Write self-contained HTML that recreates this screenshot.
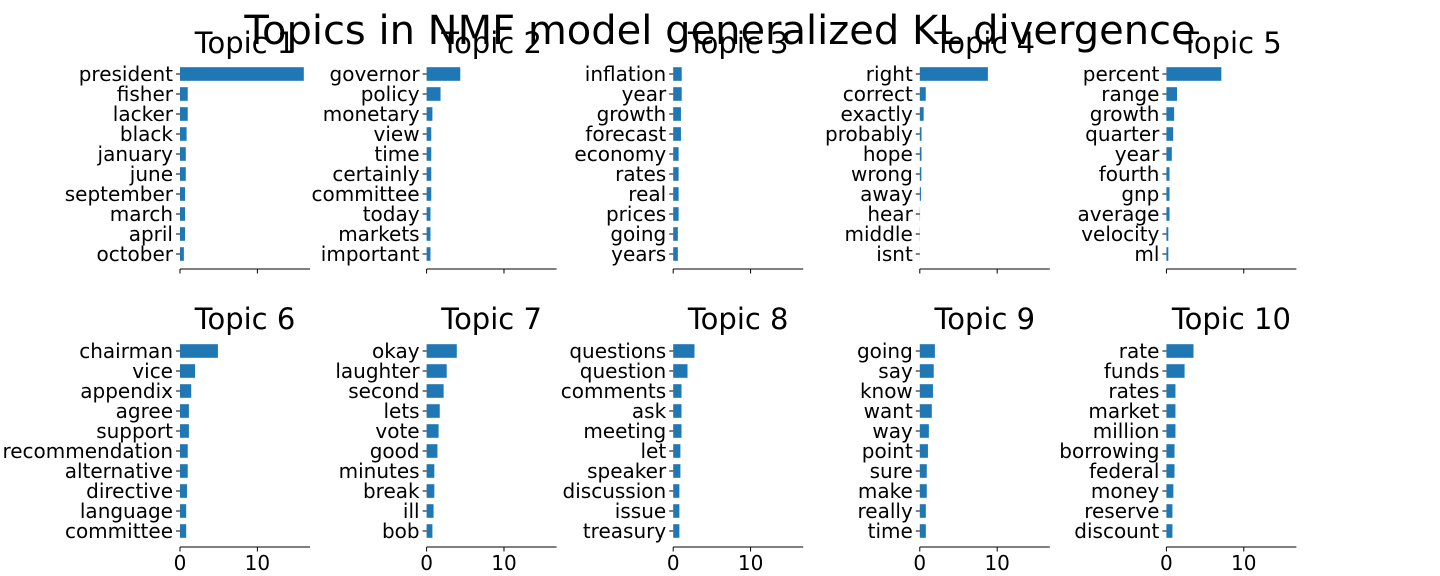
<!DOCTYPE html>
<html><head><meta charset="utf-8">
<style>
html,body{margin:0;padding:0;background:#fff;}
svg{display:block;font-family:"DejaVu Sans","Liberation Sans",sans-serif;}
</style></head>
<body>
<svg id="chart" width="1440" height="576" viewBox="0 0 1440 576" xmlns="http://www.w3.org/2000/svg">
<text x="720" y="44" font-size="40" text-anchor="middle" fill="#000">Topics in NMF model generalized KL divergence</text>
</svg>
<script>
const topicTitles = ["Topic 1","Topic 2","Topic 3","Topic 4","Topic 5","Topic 6","Topic 7","Topic 8","Topic 9","Topic 10"];
const topicWords = [
 ["president","fisher","lacker","black","january","june","september","march","april","october"],
 ["governor","policy","monetary","view","time","certainly","committee","today","markets","important"],
 ["inflation","year","growth","forecast","economy","rates","real","prices","going","years"],
 ["right","correct","exactly","probably","hope","wrong","away","hear","middle","isnt"],
 ["percent","range","growth","quarter","year","fourth","gnp","average","velocity","ml"],
 ["chairman","vice","appendix","agree","support","recommendation","alternative","directive","language","committee"],
 ["okay","laughter","second","lets","vote","good","minutes","break","ill","bob"],
 ["questions","question","comments","ask","meeting","let","speaker","discussion","issue","treasury"],
 ["going","say","know","want","way","point","sure","make","really","time"],
 ["rate","funds","rates","market","million","borrowing","federal","money","reserve","discount"]
];
const topicWeights = [
 [16.0,1.0,1.0,0.85,0.75,0.75,0.65,0.65,0.65,0.5],
 [4.35,1.8,0.75,0.6,0.6,0.6,0.6,0.5,0.5,0.5],
 [1.1,1.1,1.0,1.0,0.7,0.7,0.7,0.7,0.6,0.6],
 [8.8,0.77,0.5,0.22,0.22,0.2,0.15,0.03,0.02,0.01],
 [7.1,1.37,1.0,0.87,0.7,0.4,0.4,0.4,0.25,0.25],
 [4.9,1.95,1.45,1.15,1.15,1.0,1.0,0.9,0.8,0.8],
 [3.9,2.6,2.2,1.7,1.55,1.4,1.0,1.0,0.9,0.75],
 [2.75,1.85,1.07,1.07,1.07,0.93,0.93,0.8,0.8,0.8],
 [1.95,1.8,1.7,1.55,1.17,1.05,0.9,0.9,0.78,0.78],
 [3.5,2.35,1.17,1.17,1.17,1.05,1.05,0.9,0.78,0.78]
];
const xTicks = [0,10];
const xMax = 16.8;

const NS = "http://www.w3.org/2000/svg";
const svg = document.getElementById("chart");
function mk(tag, attrs, parent){
  const e = document.createElementNS(NS, tag);
  for (const k in attrs) e.setAttribute(k, attrs[k]);
  (parent||svg).appendChild(e);
  return e;
}
const axW = 130, step = 20;
for (let t = 0; t < 10; t++) {
  const col = t % 5, row = Math.floor(t / 5);
  const x0 = 180 + col * 246.6;
  const firstY = row === 0 ? 74 : 351;
  const bottom = row === 0 ? 269 : 547;
  const xs = v => x0 + v / xMax * axW;
  const ys = i => firstY + i * step;
  const g = mk("g", {});
  
  
  const title = mk("text", {x: x0 + axW/2, y: row === 0 ? 53 : 329, "font-size": 29, "text-anchor": "middle", fill: "#000"}, g);
  
  
  title.textContent = topicTitles[t];
  topicWords[t].forEach((w, i) => {
    const v = topicWeights[t][i];
    const bar = mk("rect", {x: xs(0), y: ys(i) - 6.8, width: Math.max(0, xs(v) - xs(0)), height: 13.6, fill: "#1f77b4"}, g);
    
    
    mk("line", {x1: xs(0) - 4, x2: xs(0), y1: ys(i), y2: ys(i), stroke: "#000", "stroke-width": 1}, g);
    const lab = mk("text", {x: xs(0) - 7, y: ys(i) + 7, "font-size": 20, "text-anchor": "end", fill: "#000"}, g);
    
    
    lab.textContent = w;
  });
  const ax = mk("line", {x1: x0, x2: x0 + axW, y1: bottom, y2: bottom, stroke: "#000", "stroke-width": 1}, g);
  
  
  xTicks.forEach(tv => {
    mk("line", {x1: xs(tv), x2: xs(tv), y1: bottom, y2: bottom + 4.5, stroke: "#000", "stroke-width": 1}, g);
    if (row === 1) {
      const tl = mk("text", {x: xs(tv), y: bottom + 23, "font-size": 20, "text-anchor": "middle", fill: "#000"}, g);
      
      
      tl.textContent = tv;
    }
  });
}
</script>
</body></html>
